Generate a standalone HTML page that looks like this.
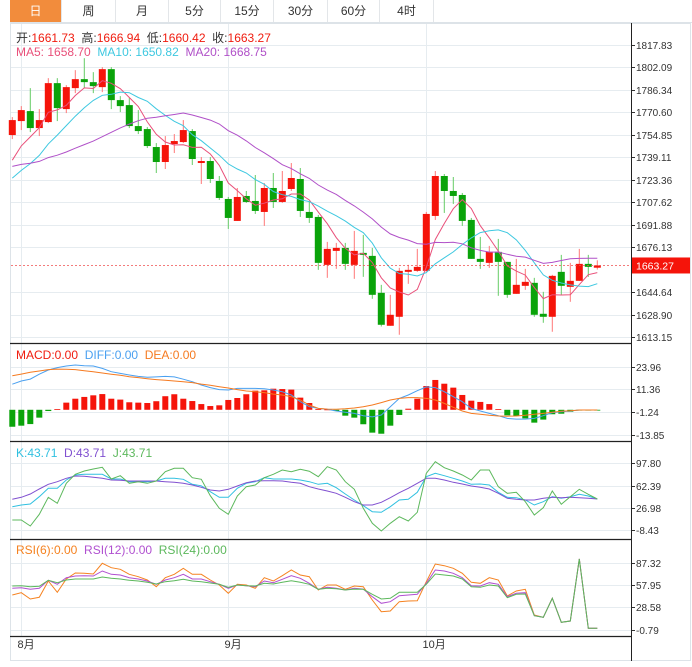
<!DOCTYPE html>
<html><head><meta charset="utf-8">
<style>
body{margin:0;background:#fff;font-family:"Liberation Sans","Noto Sans CJK SC",sans-serif;}
#wrap{position:relative;width:692px;height:667px;overflow:hidden;background:#fff}
.tabs{position:absolute;left:10px;top:0;height:22px;width:682px;border-bottom:1px solid #dde3e8;display:flex}
.tab{height:22px;line-height:22px;font-size:12px;color:#333;text-align:center;border-right:1px solid #e3e6e9;box-sizing:border-box}
.tab.on{background:#f28c3c;color:#fff}
svg{position:absolute;left:0;top:0}
</style></head><body>
<div id="wrap">
<div class="tabs">
<div class="tab on" style="width:52px">日</div>
<div class="tab" style="width:54px">周</div>
<div class="tab" style="width:53px">月</div>
<div class="tab" style="width:52px">5分</div>
<div class="tab" style="width:53px">15分</div>
<div class="tab" style="width:54px">30分</div>
<div class="tab" style="width:52px">60分</div>
<div class="tab" style="width:54px">4时</div>
</div>
<svg id="svg" width="692" height="667" xmlns="http://www.w3.org/2000/svg"></svg>
</div>
<script>
const hist=[1745,1742,1740,1738,1741,1743,1740,1742,1739,1740,1718,1712,1708,1710,1712,1722,1728,1733,1737];
const openP=[1754.7,1764.5,1771.5,1759.6,1763.8,1791.1,1772.9,1787.6,1793.9,1791.8,1788.3,1800.9,1779.2,1775.7,1761.0,1758.9,1746.3,1735.8,1748.4,1749.8,1757.5,1735.1,1736.5,1722.5,1709.9,1694.5,1712.0,1708.5,1700.8,1717.6,1707.8,1716.9,1723.9,1700.8,1697.3,1663.7,1673.5,1675.6,1663.7,1672.1,1670.0,1644.1,1621.0,1627.3,1658.8,1659.5,1659.5,1698.0,1726.0,1715.5,1712.7,1695.2,1667.9,1665.1,1672.8,1665.8,1643.4,1649.0,1651.1,1629.4,1627.3,1658.8,1648.3,1652.5,1664.4,1661.7];
const highP=[1767.3,1775.0,1787.6,1772.9,1794.6,1794.6,1789.7,1800.2,1808.6,1798.8,1802.3,1802.3,1782.0,1780.6,1772.2,1760.3,1749.1,1754.0,1755.4,1765.2,1758.9,1739.3,1739.3,1726.0,1711.3,1717.6,1715.5,1726.7,1721.1,1728.1,1729.5,1735.1,1731.6,1707.8,1698.7,1679.8,1679.1,1679.1,1687.5,1684.7,1675.6,1649.7,1642.7,1661.6,1663.7,1674.9,1700.8,1729.5,1727.4,1725.3,1714.1,1696.6,1683.3,1677.0,1681.9,1665.8,1667.9,1660.9,1654.6,1644.8,1656.7,1670.7,1665.1,1674.9,1670.7,1666.9];
const lowP=[1751.9,1758.2,1756.8,1754.0,1763.1,1764.5,1770.1,1784.1,1787.6,1784.1,1784.8,1772.9,1770.8,1759.6,1755.4,1745.6,1728.1,1730.9,1742.1,1749.1,1733.7,1720.4,1721.1,1709.2,1688.9,1694.5,1707.1,1699.4,1691.0,1703.6,1707.1,1715.5,1697.3,1693.1,1660.2,1654.6,1660.9,1660.2,1653.9,1655.3,1639.9,1620.5,1621.0,1614.7,1650.4,1658.8,1658.8,1695.2,1700.1,1706.4,1691.0,1667.9,1660.9,1661.6,1642.0,1640.6,1643.4,1646.2,1627.3,1623.1,1616.8,1642.7,1637.8,1652.5,1655.3,1660.4];
const closeP=[1765.2,1772.2,1759.6,1765.2,1791.1,1773.6,1788.3,1793.9,1791.8,1789.0,1800.9,1779.2,1775.0,1761.0,1757.5,1747.0,1735.8,1747.7,1750.5,1758.2,1737.9,1736.5,1723.9,1710.6,1696.6,1711.3,1707.8,1701.5,1717.6,1707.8,1715.5,1724.6,1701.5,1696.6,1665.1,1674.9,1675.6,1664.4,1673.5,1670.7,1642.7,1621.7,1628.7,1659.5,1660.2,1662.3,1699.4,1726.0,1715.5,1712.0,1694.5,1667.9,1665.8,1672.8,1665.8,1642.7,1649.7,1651.8,1628.7,1627.3,1656.0,1649.0,1652.5,1664.4,1662.3,1663.3];
const macdBar=[-9.5,-8.9,-8.0,-4.4,-0.7,0.4,4.0,6.2,7.2,8.1,8.8,6.2,5.7,4.2,4.0,3.8,4.8,7.6,8.7,6.2,4.9,3.2,2.1,2.5,5.5,6.6,8.7,10.7,10.9,11.8,11.6,11.3,6.8,3.8,0.4,0.2,-0.7,-3.3,-4.4,-8.1,-12.8,-13.4,-8.9,-2.9,0.6,6.2,13.3,16.7,14.6,12.4,8.3,5.1,4.4,3.2,0.4,-3.1,-3.5,-4.8,-7.2,-5.5,-2.5,-2.2,-1.1,-0.1,-0.1,-0.1];
const diffV=[14.3,16.1,17.2,19.9,22.3,23.6,24.5,25.1,24.7,24.5,23.2,21.3,20.4,19.5,18.7,18.2,18.4,18.7,18.4,17.1,15.7,13.9,12.4,11.3,11.1,12.0,12.0,12.0,11.8,11.1,10.1,8.3,4.5,1.7,0.8,0.3,-0.7,-1.4,-2.0,-3.3,-4.0,-2.9,1.7,6.4,8.3,10.7,12.8,12.4,10.1,7.3,4.5,0.8,-0.7,-2.0,-3.3,-4.8,-5.2,-5.2,-4.8,-3.3,-1.6,-1.1,-0.7,-0.1,-0.1,-0.1];
const deaV=[19.1,20.0,21.0,21.7,22.5,22.8,22.7,22.5,21.9,21.3,20.6,19.9,19.3,18.5,18.0,17.4,16.9,16.5,16.1,15.7,15.2,14.4,13.7,12.9,12.2,11.3,10.5,10.1,9.6,8.8,8.3,7.3,5.5,2.7,0.8,0.4,0.3,0.6,1.0,1.7,2.7,4.0,5.5,6.4,6.8,6.8,6.4,5.5,3.6,1.4,-0.7,-2.0,-2.5,-3.1,-3.5,-3.6,-3.5,-3.1,-2.5,-2.0,-1.4,-0.8,-0.5,-0.1,-0.1,-0.1];
const kV=[28.9,31.6,33.2,44.7,58.0,58.0,71.1,79.0,80.1,80.1,80.1,72.7,72.7,68.4,68.4,68.4,69.5,73.8,73.8,72.2,64.3,61.9,52.6,43.8,43.8,58.0,65.9,68.4,74.7,72.7,72.7,72.7,71.1,68.4,64.3,65.9,58.9,49.0,39.5,30.5,21.0,20.1,28.9,39.5,40.6,51.7,76.3,81.7,77.9,73.8,69.5,64.3,64.8,63.2,51.7,43.8,43.1,39.5,31.6,36.8,44.7,42.2,44.7,48.5,45.8,41.1];
const dV=[40.6,43.8,49.0,56.9,64.3,68.4,73.8,77.4,76.9,75.4,73.8,71.1,70.6,69.5,69.5,69.5,69.5,68.4,67.5,65.9,63.2,59.6,55.3,53.7,56.4,61.6,66.8,69.5,70.0,70.0,69.5,67.5,65.9,60.5,56.9,53.7,50.1,43.8,36.8,31.6,31.6,35.9,43.1,51.0,58.0,65.9,73.8,73.8,71.1,67.5,64.8,61.6,59.6,56.9,50.1,42.2,40.6,39.5,39.5,42.2,43.8,43.1,43.8,43.1,42.2,41.1];
const jV=[7.9,7.9,-1.6,16.9,43.8,34.3,65.9,80.1,85.3,88.5,91.2,72.7,77.9,65.9,68.4,65.9,69.5,84.2,89.6,89.6,74.7,72.2,46.3,26.4,16.9,45.8,60.5,63.2,74.7,80.1,86.9,84.2,88.0,85.0,76.3,92.1,86.9,68.4,56.4,26.4,2.7,-9.5,2.7,13.1,6.3,20.1,81.7,100.0,90.5,85.3,79.0,71.1,86.9,86.9,60.5,50.1,51.7,36.8,15.8,27.3,53.7,32.7,44.7,56.4,48.5,41.1];
const rsi6=[44.8,47.9,39.6,41.8,63.2,48.4,65.8,73.7,73.3,72.4,86.4,80.6,78.5,72.0,68.8,64.5,55.7,67.5,72.0,79.8,72.0,72.0,64.5,58.0,47.1,58.9,58.0,53.6,67.5,63.2,70.1,77.6,71.1,68.8,51.4,58.0,58.0,52.3,56.6,55.7,38.3,23.0,23.9,36.1,37.0,37.4,62.3,85.5,83.3,79.8,73.3,61.5,60.2,67.5,64.5,43.5,50.1,52.3,18.6,15.6,40.5,9.0,10.8,92.0,1.2,1.2];
const rsi12=[53.6,54.4,52.3,53.6,64.1,58.9,67.5,69.8,70.1,69.8,76.3,72.0,71.1,67.5,65.8,63.2,58.9,64.5,67.5,72.0,65.8,65.8,62.3,58.9,53.6,58.0,57.0,55.7,63.2,61.0,65.4,70.1,66.7,60.2,52.3,54.9,53.6,51.4,53.6,52.6,42.6,34.0,36.1,43.9,44.8,45.8,60.2,77.6,76.3,73.3,67.5,57.0,56.6,61.0,58.9,42.6,47.1,47.9,17.7,15.6,40.5,9.0,10.8,92.0,1.2,1.2];
const rsi24=[56.6,57.0,55.7,56.2,64.1,61.0,64.5,65.8,65.8,65.8,68.4,66.7,65.8,64.1,63.2,61.5,59.3,62.3,63.6,65.4,63.2,62.3,60.6,58.9,54.9,58.0,57.0,56.6,60.2,59.3,61.5,63.6,61.5,58.9,52.3,53.6,53.1,51.4,52.6,52.3,45.8,39.6,40.5,48.4,48.4,48.4,58.9,72.4,71.1,69.8,65.8,55.7,54.9,58.0,56.6,41.3,45.8,46.2,17.7,15.6,40.5,9.0,10.8,92.0,1.2,1.2];
const priceTicks=[1817.83,1802.09,1786.34,1770.60,1754.85,1739.11,1723.36,1707.62,1691.88,1676.13,1644.64,1628.90,1613.15];
const macdTicks=[23.96,11.36,-1.24,-13.85];
const kdjTicks=[97.80,62.39,26.98,-8.43];
const rsiTicks=[87.32,57.95,28.58,-0.79];
const monthLabels=["8月","9月","10月"];
const monthIdx=[1,24,46];
const lastPrice=1663.27;

const svg=document.getElementById('svg');
const NS='http://www.w3.org/2000/svg';
function mk(tag,attrs,parent){const e=document.createElementNS(NS,tag);for(const k in attrs)e.setAttribute(k,attrs[k]);(parent||svg).appendChild(e);return e;}
const X=i=>12.3+9*i;
const yP=v=>45+(1817.83-v)*1.4265;
const yM=v=>412-(v+1.24)*1.786;
const yK=v=>485.5-(v-62.39)*0.633;
const yR=v=>585-(v-57.95)*0.763;
const RED='#f5140a',GREEN='#0aa30a';

let fr=mk('rect',{x:10.5,y:23.5,width:680,height:637,fill:'none',stroke:'#dde3e8'});

function hgrid(ticks,yf,name){ticks.forEach(t=>{const y=Math.round(yf(t))+0.5;const l=mk('line',{x1:11,x2:631,y1:y,y2:y,stroke:'#e6ecf0'});
const tk=mk('line',{x1:631,x2:635,y1:y,y2:y,stroke:'#333'});
const tx=mk('text',{x:636,y:y+3.5,'font-size':10,fill:'#333'});tx.textContent=t.toFixed(2);});}
hgrid(priceTicks,yP,'price');hgrid(macdTicks,yM,'macd');hgrid(kdjTicks,yK,'kdj');hgrid(rsiTicks,yR,'rsi');
monthIdx.forEach((mi,k)=>{const x=Math.round(X(mi))+0.5;const l=mk('line',{x1:x,x2:x,y1:24,y2:636,stroke:'#e6ecf0'});
const t=mk('text',{x:x-4,y:648,'font-size':11,fill:'#333'});t.textContent=monthLabels[k];});
[343.5,441.5,539.5,636.5].forEach(y=>{const l=mk('line',{x1:10,x2:631,y1:y,y2:y,stroke:'#222','stroke-width':1.2});});
let ax=mk('line',{x1:631.5,x2:631.5,y1:23,y2:661,stroke:'#222'});

const N=closeP.length;
for(let i=0;i<N;i++){const up=closeP[i]>=openP[i];const c=up?RED:GREEN;const x=X(i);
const w=mk('line',{x1:x,x2:x,y1:yP(highP[i]),y2:yP(lowP[i]),stroke:up?'#f77':'#6c6','stroke-width':1});
const t=Math.min(yP(openP[i]),yP(closeP[i]));const h=Math.max(1,Math.abs(yP(openP[i])-yP(closeP[i])));
const b=mk('rect',{x:x-3.5,y:t,width:7,height:h,fill:c});}
const all=hist.concat(closeP);const H=hist.length;
function ma(n){const r=[];for(let i=0;i<N;i++){let s=0;for(let k=0;k<n;k++)s+=all[H+i-k];r.push(s/n);}return r;}
function poly(vals,yf,col,name){const p=vals.map((v,i)=>X(i).toFixed(1)+','+yf(v).toFixed(1)).join(' ');const e=mk('polyline',{points:p,fill:'none',stroke:col,'stroke-width':1});}
poly(ma(5),yP,'#e9507a','ma5-line');poly(ma(10),yP,'#3ec8e0','ma10-line');poly(ma(20),yP,'#b050c8','ma20-line');
const ly=yP(lastPrice);
let dl=mk('line',{x1:11,x2:631,y1:ly,y2:ly,stroke:'#f05050','stroke-dasharray':'2,2','stroke-width':0.8});
let lb=mk('rect',{x:632,y:ly-8,width:58,height:16,fill:RED});
let lt=mk('text',{x:636,y:ly+4,'font-size':10.5,fill:'#fff'});lt.textContent=lastPrice.toFixed(2);

for(let i=0;i<N;i++){const m=macdBar[i];const y0=yM(0),y1=yM(m);const b=mk('rect',{x:X(i)-3,y:Math.min(y0,y1),width:6,height:Math.max(0.8,Math.abs(y1-y0)),fill:m>=0?RED:GREEN});}
poly(diffV,yM,'#4aa0f0','diff-line');poly(deaV,yM,'#f57a20','dea-line');
poly(kV,yK,'#30c0e0','k-line');poly(dV,yK,'#8050d0','d-line');poly(jV,yK,'#5cb85c','j-line');
poly(rsi6,yR,'#f58220','rsi6-line');poly(rsi12,yR,'#b050d0','rsi12-line');poly(rsi24,yR,'#5cb85c','rsi24-line');

function hdr(y,parts,name){const t=mk('text',{x:16,y:y,'font-size':12});
parts.forEach(p=>{const s=mk('tspan',{fill:p[1]},t);s.textContent=p[0];});}
hdr(42,[['开:','#333'],['1661.73  ','#f01c0f'],['高:','#333'],['1666.94  ','#f01c0f'],['低:','#333'],['1660.42  ','#f01c0f'],['收:','#333'],['1663.27','#f01c0f']],'ohlc-legend');
hdr(56,[['MA5: 1658.70  ','#e9507a'],['MA10: 1650.82  ','#3ec8e0'],['MA20: 1668.75','#b050c8']],'ma-legend');
hdr(359,[['MACD:0.00  ','#f01c0f'],['DIFF:0.00  ','#4aa0f0'],['DEA:0.00','#f57a20']],'macd-legend');
hdr(457,[['K:43.71  ','#30c0e0'],['D:43.71  ','#8050d0'],['J:43.71','#5cb85c']],'kdj-legend');
hdr(554,[['RSI(6):0.00  ','#f58220'],['RSI(12):0.00  ','#b050d0'],['RSI(24):0.00','#5cb85c']],'rsi-legend');
svg.querySelectorAll('text').forEach(t=>{t.setAttribute('xml:space','preserve');t.style.whiteSpace='pre';});
</script>
</body></html>
